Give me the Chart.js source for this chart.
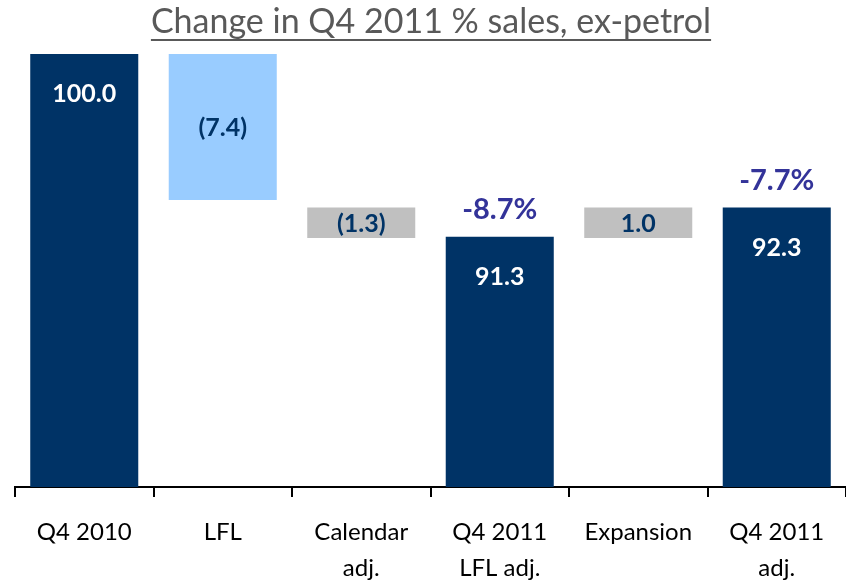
<!DOCTYPE html>
<html>
<head>
<meta charset="utf-8">
<script src="https://cdn.jsdelivr.net/npm/chart.js@4/dist/chart.umd.min.js"></script>
<style>
  html, body { margin: 0; padding: 0; background: #fff; }
  #wrap { width: 846px; height: 585px; position: relative; }
</style>
</head>
<body>
<div id="wrap"><canvas id="chart" width="846" height="585"></canvas></div>
<script>
// waterfall data
const categories = [['Q4 2010'], ['LFL'], ['Calendar', 'adj.'], ['Q4 2011', 'LFL adj.'], ['Expansion'], ['Q4 2011', 'adj.']];
const barLow  = [79.4, 93.05, 91.25, 79.4, 91.25, 79.4];
const barHigh = [100.0, 100.0, 92.7, 91.3, 92.7, 92.7];
const valueLabels = ['100.0', '(7.4)', '(1.3)', '91.3', '1.0', '92.3'];
const changeLabels = ['', '', '', '-8.7%', '', '-7.7%'];
const barColors = ['#003366', '#99ccff', '#c0c0c0', '#003366', '#c0c0c0', '#003366'];

const titleText = 'Change in Q4 2011 % sales, ex-petrol';
const FONT = 'Lato, "Open Sans", sans-serif';

// titre souligné + étiquettes des barres
const labelsPlugin = {
    id: 'wfLabels',
    afterDraw(chart) {
        const ctx = chart.ctx;
        ctx.save();
        ctx.font = '34px ' + FONT;
        ctx.fillStyle = '#595959';
        ctx.textAlign = 'center';
        ctx.textBaseline = 'alphabetic';
        const tx = 431, ty = 33;
        ctx.fillText(titleText, tx, ty);
        const w = ctx.measureText(titleText).width;
        ctx.fillRect(tx - w / 2, ty + 6, w, 2);

        const meta = chart.getDatasetMeta(0);
        ctx.textBaseline = 'middle';
        meta.data.forEach((bar, i) => {
            const top = Math.min(bar.y, bar.base);
            const bottom = Math.max(bar.y, bar.base);
            ctx.font = 'bold 25px ' + FONT;
            if (barColors[i] === '#003366') {
                ctx.fillStyle = '#ffffff';
                ctx.fillText(valueLabels[i], bar.x, top + 40);
            } else {
                ctx.fillStyle = '#003366';
                ctx.fillText(valueLabels[i], bar.x, (top + bottom) / 2 + 1);
            }
            if (changeLabels[i]) {
                ctx.font = 'bold 29px ' + FONT;
                ctx.fillStyle = '#333399';
                ctx.fillText(changeLabels[i], bar.x, top - 27);
            }
        });
        ctx.restore();
    }
};

new Chart(document.getElementById('chart'), {
    type: 'bar',
    data: {
        labels: categories,
        datasets: [{
            data: barLow.map((lo, i) => [lo, barHigh[i]]),
            backgroundColor: barColors,
            borderWidth: 0,
            barPercentage: 0.78,
            categoryPercentage: 1.0
        }]
    },
    options: {
        responsive: false,
        animation: false,
        layout: { padding: { top: 54, left: 15, right: 0, bottom: 0 } },
        plugins: {
            legend: { display: false },
            tooltip: { enabled: false },
            title: { display: false }
        },
        scales: {
            x: {
                offset: true,
                grid: { offset: true, drawOnChartArea: false, drawTicks: true, tickLength: 10, color: '#000', lineWidth: 2 },
                border: { display: true, color: '#000', width: 2 },
                ticks: {
                    color: '#000',
                    font: { family: FONT, size: 24, lineHeight: 1.5 },
                    padding: 17,
                    maxRotation: 0
                },
                afterFit: s => { s.height = 98; }
            },
            y: {
                display: false,
                min: 79.4,
                max: 100
            }
        }
    },
    plugins: [labelsPlugin]
});
</script>
</body>
</html>
